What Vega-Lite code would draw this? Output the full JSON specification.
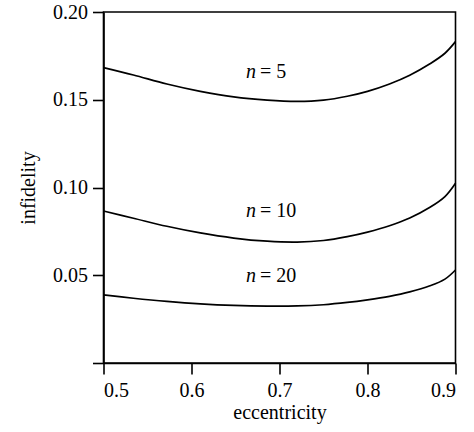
{
  "$schema": "https://vega.github.io/schema/vega-lite/v6.json",
  "autosize": {"type": "none"},
  "padding": {"left": 103.5, "top": 12, "right": 18.5, "bottom": 69},
  "width": 352,
  "height": 351,
  "background": "white",
  "config": {
    "view": {"stroke": "black", "strokeWidth": 1.6},
    "font": "Liberation Serif",
    "axis": {
      "grid": false,
      "domainColor": "black",
      "domainWidth": 1.6,
      "tickColor": "black",
      "tickWidth": 1.6,
      "tickSize": 11,
      "labelFont": "Liberation Serif",
      "labelFontSize": 20,
      "labelColor": "black",
      "titleFont": "Liberation Serif",
      "titleFontSize": 20,
      "titleFontWeight": "normal",
      "titleColor": "black"
    }
  },
  "datasets": {
    "curves": [
      {"e": 0.5, "v": 0.1683, "n": "5"},
      {"e": 0.534, "v": 0.1641, "n": "5"},
      {"e": 0.572, "v": 0.1590, "n": "5"},
      {"e": 0.61, "v": 0.1548, "n": "5"},
      {"e": 0.648, "v": 0.1516, "n": "5"},
      {"e": 0.686, "v": 0.1498, "n": "5"},
      {"e": 0.72, "v": 0.1491, "n": "5"},
      {"e": 0.75, "v": 0.1498, "n": "5"},
      {"e": 0.777, "v": 0.1520, "n": "5"},
      {"e": 0.8, "v": 0.1548, "n": "5"},
      {"e": 0.825, "v": 0.1590, "n": "5"},
      {"e": 0.848, "v": 0.1640, "n": "5"},
      {"e": 0.871, "v": 0.1705, "n": "5"},
      {"e": 0.888, "v": 0.1765, "n": "5"},
      {"e": 0.9, "v": 0.1831, "n": "5"},
      {"e": 0.5, "v": 0.0866, "n": "10"},
      {"e": 0.534, "v": 0.0825, "n": "10"},
      {"e": 0.572, "v": 0.0779, "n": "10"},
      {"e": 0.61, "v": 0.0741, "n": "10"},
      {"e": 0.648, "v": 0.0712, "n": "10"},
      {"e": 0.686, "v": 0.0694, "n": "10"},
      {"e": 0.72, "v": 0.0689, "n": "10"},
      {"e": 0.75, "v": 0.0698, "n": "10"},
      {"e": 0.777, "v": 0.0720, "n": "10"},
      {"e": 0.8, "v": 0.0746, "n": "10"},
      {"e": 0.825, "v": 0.0782, "n": "10"},
      {"e": 0.848, "v": 0.0826, "n": "10"},
      {"e": 0.871, "v": 0.0887, "n": "10"},
      {"e": 0.888, "v": 0.0948, "n": "10"},
      {"e": 0.9, "v": 0.1024, "n": "10"},
      {"e": 0.5, "v": 0.0388, "n": "20"},
      {"e": 0.534, "v": 0.0369, "n": "20"},
      {"e": 0.572, "v": 0.0351, "n": "20"},
      {"e": 0.61, "v": 0.0337, "n": "20"},
      {"e": 0.648, "v": 0.0328, "n": "20"},
      {"e": 0.686, "v": 0.0324, "n": "20"},
      {"e": 0.72, "v": 0.0325, "n": "20"},
      {"e": 0.75, "v": 0.0332, "n": "20"},
      {"e": 0.777, "v": 0.0345, "n": "20"},
      {"e": 0.8, "v": 0.0360, "n": "20"},
      {"e": 0.825, "v": 0.0380, "n": "20"},
      {"e": 0.848, "v": 0.0405, "n": "20"},
      {"e": 0.871, "v": 0.0440, "n": "20"},
      {"e": 0.888, "v": 0.0478, "n": "20"},
      {"e": 0.9, "v": 0.0530, "n": "20"}
    ],
    "nlabels": [
      {"e": 0.662, "v": 0.1626, "t": "n"},
      {"e": 0.662, "v": 0.0834, "t": "n"},
      {"e": 0.662, "v": 0.0463, "t": "n"}
    ],
    "vlabels": [
      {"e": 0.6778, "v": 0.1626, "t": "= 5"},
      {"e": 0.6778, "v": 0.0834, "t": "= 10"},
      {"e": 0.6778, "v": 0.0463, "t": "= 20"}
    ]
  },
  "layer": [
    {
      "data": {"name": "curves"},
      "mark": {"type": "line", "color": "black", "strokeWidth": 1.7, "interpolate": "catmull-rom"},
      "encoding": {
        "x": {
          "field": "e", "type": "quantitative",
          "scale": {"domain": [0.5, 0.9], "nice": false, "zero": false},
          "axis": {"values": [0.5, 0.6, 0.7, 0.8, 0.9], "format": ".1f", "title": "eccentricity", "labelPadding": 6, "titlePadding": 2}
        },
        "y": {
          "field": "v", "type": "quantitative",
          "scale": {"domain": [0, 0.2], "nice": false},
          "axis": {"values": [0, 0.05, 0.1, 0.15, 0.2], "labelExpr": "datum.value == 0 ? '' : format(datum.value, '.2f')", "title": "infidelity", "labelPadding": 5, "titlePadding": 14}
        },
        "detail": {"field": "n", "type": "nominal"}
      }
    },
    {
      "data": {"name": "nlabels"},
      "mark": {"type": "text", "align": "left", "baseline": "alphabetic", "fontStyle": "italic", "fontSize": 20, "font": "Liberation Serif", "color": "black"},
      "encoding": {
        "x": {"field": "e", "type": "quantitative"},
        "y": {"field": "v", "type": "quantitative"},
        "text": {"field": "t"}
      }
    },
    {
      "data": {"name": "vlabels"},
      "mark": {"type": "text", "align": "left", "baseline": "alphabetic", "fontSize": 20, "font": "Liberation Serif", "color": "black"},
      "encoding": {
        "x": {"field": "e", "type": "quantitative"},
        "y": {"field": "v", "type": "quantitative"},
        "text": {"field": "t"}
      }
    }
  ]
}
